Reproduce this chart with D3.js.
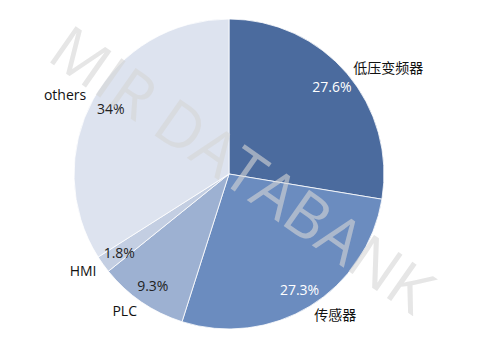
<!DOCTYPE html>
<html>
<head>
<meta charset="utf-8">
<script src="https://cdn.jsdelivr.net/npm/d3@7"></script>
<style>
    body { margin: 0; background: #fff; }
    svg { display: block; }
</style>
</head>
<body>
<div id="chart"></div>
<script>
// chart data
const categories = ['低压变频器', '传感器', 'PLC', 'HMI', 'others']
const shares = [27.6, 27.3, 9.3, 1.8, 34]
const shareLabels = ['27.6%', '27.3%', '9.3%', '1.8%', '34%']
const colors = ['#4b6b9e', '#6b8cbf', '#9db1d2', '#c3cee2', '#dde3ef']
const pctColors = ['#ffffff', '#ffffff', '#222222', '#222222', '#222222']

const width = 499
const height = 351
const cx = 229
const cy = 174
const radius = 155

const svg = d3
    .select('#chart')
    .append('svg')
    .attr('width', width)
    .attr('height', height)

const g = svg.append('g').attr('transform', `translate(${cx},${cy})`)

// pie layout, clockwise from 12 o'clock, keep input order
const pie = d3.pie().sort(null).value((d) => d.value)
const arcs = pie(categories.map((c, i) => ({ name: c, value: shares[i], i })))

const arc = d3.arc().innerRadius(0).outerRadius(radius)

g.selectAll('path')
    .data(arcs)
    .enter()
    .append('path')
    .attr('d', arc)
    .attr('fill', (d) => colors[d.data.i])
    .attr('stroke', '#ffffff')
    .attr('stroke-width', 0.8)

const mid = (d) => (d.startAngle + d.endAngle) / 2
const font = '"Segoe UI", "Open Sans", "Noto Sans CJK SC", sans-serif'

// percentage labels inside the slices
g.selectAll('text.pct')
    .data(arcs)
    .enter()
    .append('text')
    .attr('class', 'pct')
    .attr('x', (d) => Math.sin(mid(d)) * 135)
    .attr('y', (d) => -Math.cos(mid(d)) * 135)
    .attr('text-anchor', 'middle')
    .attr('dominant-baseline', 'central')
    .style('font-family', font)
    .style('font-size', '14px')
    .attr('fill', (d) => pctColors[d.data.i])
    .text((d) => shareLabels[d.data.i])

// category labels outside the pie
g.selectAll('text.name')
    .data(arcs)
    .enter()
    .append('text')
    .attr('class', 'name')
    .attr('x', (d) => Math.sin(mid(d)) * 163)
    .attr('y', (d) => -Math.cos(mid(d)) * 165)
    .attr('text-anchor', (d) => (mid(d) < Math.PI ? 'start' : 'end'))
    .attr('dominant-baseline', 'central')
    .style('font-family', '"Open Sans", "Noto Sans CJK SC", sans-serif')
    .style('font-size', '14px')
    .attr('fill', '#111')
    .text((d) => d.data.name)

// watermark
svg.append('text')
    .attr('transform', `translate(243,168) rotate(35)`)
    .attr('text-anchor', 'middle')
    .attr('dominant-baseline', 'central')
    .style('font-family', '"Open Sans", "DejaVu Sans", sans-serif')
    .style('font-weight', 400)
    .style('font-size', '62px')
    .attr('fill', '#d6d6d6')
    .attr('opacity', 0.6)
    .text('MIR DATABANK')
</script>
</body>
</html>
